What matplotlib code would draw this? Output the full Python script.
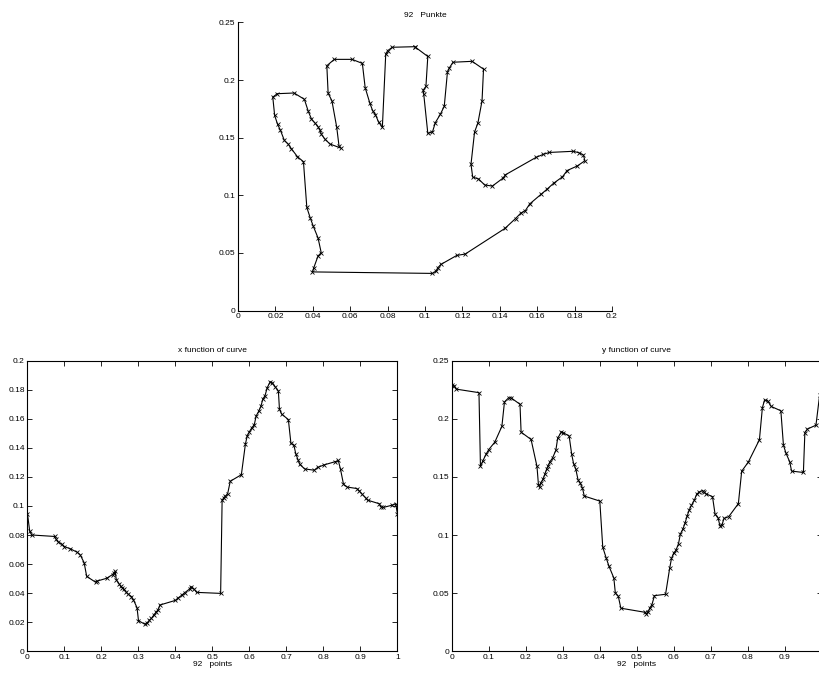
import matplotlib
matplotlib.use("Agg")
import matplotlib.pyplot as plt

plt.rcParams['font.family'] = ['Liberation Sans', 'DejaVu Sans']

# curve parameter (shared by both component plots)
t = [0.000, 0.006, 0.012, 0.073, 0.077, 0.083, 0.093, 0.0995, 0.116, 0.135, 0.142,
     0.153, 0.160, 0.184, 0.187, 0.214, 0.230, 0.234, 0.237, 0.240,
     0.247, 0.252, 0.256, 0.260, 0.265, 0.272, 0.281, 0.286, 0.296, 0.300, 0.317,
     0.324, 0.329, 0.335, 0.341, 0.347, 0.353, 0.358, 0.400,
     0.408, 0.417, 0.425, 0.438, 0.442, 0.450, 0.457, 0.522,
     0.526, 0.531, 0.535, 0.541, 0.548, 0.578,
     0.589, 0.594, 0.600, 0.606, 0.613, 0.618, 0.625, 0.631, 0.636, 0.642, 0.648, 0.656,
     0.662, 0.669, 0.678, 0.681, 0.687, 0.705, 0.712, 0.720, 0.725, 0.731, 0.736, 0.749, 0.775,
     0.784, 0.802, 0.832, 0.840, 0.846, 0.854, 0.864, 0.890, 0.897, 0.904, 0.914, 0.919,
     0.951, 0.955, 0.962, 0.985, 0.995, 1.000]

x_curve = [0.0945, 0.0825, 0.0800, 0.0790, 0.0772, 0.0752, 0.0735, 0.0720, 0.0705, 0.0680, 0.0665,
           0.0610, 0.0515, 0.0475, 0.0482, 0.0502, 0.0528, 0.0540, 0.0550, 0.0492,
           0.0466, 0.0446, 0.0438, 0.0428, 0.0410, 0.0393, 0.0376, 0.0355, 0.0300, 0.0210, 0.0186,
           0.0196, 0.0212, 0.0226, 0.0248, 0.0268, 0.0285, 0.0318, 0.0350,
           0.0368, 0.0386, 0.0403, 0.0428, 0.0445, 0.0428, 0.0405, 0.0398,
           0.1040, 0.1058, 0.1068, 0.1085, 0.1170, 0.1215,
           0.1427, 0.1484, 0.1512, 0.1537, 0.1560, 0.1620, 0.1652, 0.1688, 0.1735, 0.1760, 0.1815, 0.1855,
           0.1847, 0.1822, 0.1792, 0.1665, 0.1632, 0.1595, 0.1430, 0.1418, 0.1360, 0.1319, 0.1286, 0.1255, 0.1246,
           0.1265, 0.1283, 0.1305, 0.1313, 0.1252, 0.1150, 0.1130, 0.1120, 0.1103, 0.1082, 0.1055, 0.1040,
           0.1015, 0.0993, 0.0990, 0.1005, 0.1015, 0.0945]

y_curve = [0.2290, 0.2285, 0.2255, 0.2225, 0.1590, 0.1635, 0.1700, 0.1735, 0.1800, 0.1935, 0.2145,
           0.2180, 0.2180, 0.2125, 0.1885, 0.1822, 0.1590, 0.1430, 0.1410, 0.1445,
           0.1485, 0.1529, 0.1566, 0.1596, 0.1630, 0.1662, 0.1728, 0.1833, 0.1888, 0.1882, 0.1852,
           0.1693, 0.1615, 0.1568, 0.1476, 0.1445, 0.1405, 0.1335, 0.1292,
           0.0895, 0.0805, 0.0730, 0.0630, 0.0502, 0.0473, 0.0370, 0.0335,
           0.0322, 0.0340, 0.0370, 0.0400, 0.0478, 0.0490,
           0.0712, 0.0798, 0.0845, 0.0868, 0.0925, 0.1008, 0.1052, 0.1105, 0.1160, 0.1215, 0.1255, 0.1300,
           0.1350, 0.1370, 0.1382, 0.1372, 0.1355, 0.1330, 0.1178, 0.1150, 0.1080, 0.1090, 0.1142, 0.1158, 0.1270,
           0.1549, 0.1628, 0.1820, 0.2095, 0.2163, 0.2155, 0.2106, 0.2069, 0.1773, 0.1703, 0.1630, 0.1550,
           0.1538, 0.1882, 0.1912, 0.1945, 0.2205, 0.2290]

top_title = "92   Punkte"
left_title = "x function of curve"
right_title = "y function of curve"
bottom_xlabel = "92   points"

top_xticks = [0, 0.02, 0.04, 0.06, 0.08, 0.1, 0.12, 0.14, 0.16, 0.18, 0.2]
top_xticklabels = ["0", "0.02", "0.04", "0.06", "0.08", "0.1", "0.12", "0.14", "0.16", "0.18", "0.2"]
top_yticks = [0, 0.05, 0.1, 0.15, 0.2, 0.25]
top_yticklabels = ["0", "0.05", "0.1", "0.15", "0.2", "0.25"]
t_ticks = [0, 0.1, 0.2, 0.3, 0.4, 0.5, 0.6, 0.7, 0.8, 0.9, 1]
t_ticklabels = ["0", "0.1", "0.2", "0.3", "0.4", "0.5", "0.6", "0.7", "0.8", "0.9", "1"]
left_yticks = [0, 0.02, 0.04, 0.06, 0.08, 0.1, 0.12, 0.14, 0.16, 0.18, 0.2]
left_yticklabels = ["0", "0.02", "0.04", "0.06", "0.08", "0.1", "0.12", "0.14", "0.16", "0.18", "0.2"]
right_yticks = [0, 0.05, 0.1, 0.15, 0.2, 0.25]
right_yticklabels = ["0", "0.05", "0.1", "0.15", "0.2", "0.25"]

W, H = 820, 675
fig = plt.figure(figsize=(W / 100, H / 100), dpi=100)

def box(x0, y0, x1, y1):
    return [x0 / W, 1 - y1 / H, (x1 - x0) / W, (y1 - y0) / H]

FS = 6
line_kw = dict(color='black', lw=0.8, marker='x', ms=3.2, mew=0.6)

def style(ax, full_box=True):
    for s in ax.spines.values():
        s.set_linewidth(0.8)
    ax.tick_params(direction='in', length=3.5, width=0.6, labelsize=FS, pad=2,
                   top=full_box, right=full_box)
    if not full_box:
        ax.spines['top'].set_visible(False)
        ax.spines['right'].set_visible(False)

# top: the curve itself
ax0 = fig.add_axes(box(238, 22.5, 612, 310.5))
ax0.plot(x_curve, y_curve, **line_kw)
ax0.set_xlim(0, 0.2)
ax0.set_ylim(0, 0.25)
ax0.set_xticks(top_xticks)
ax0.set_xticklabels(top_xticklabels)
ax0.set_yticks(top_yticks)
ax0.set_yticklabels(top_yticklabels)
ax0.set_title(top_title, fontsize=FS, pad=4)
style(ax0, full_box=False)

# bottom left: x component
ax1 = fig.add_axes(box(27.5, 360.7, 397.5, 651.2))
ax1.plot(t, x_curve, **line_kw)
ax1.set_xlim(0, 1)
ax1.set_ylim(0, 0.2)
ax1.set_xticks(t_ticks)
ax1.set_xticklabels(t_ticklabels)
ax1.set_yticks(left_yticks)
ax1.set_yticklabels(left_yticklabels)
ax1.set_title(left_title, fontsize=FS, pad=6)
ax1.set_xlabel(bottom_xlabel, fontsize=FS, labelpad=0)
style(ax1)

# bottom right: y component
ax2 = fig.add_axes(box(452, 360.7, 821.5, 651.2))
ax2.plot(t, y_curve, **line_kw)
ax2.set_xlim(0, 1)
ax2.set_ylim(0, 0.25)
ax2.set_xticks(t_ticks)
ax2.set_xticklabels(t_ticklabels)
ax2.set_yticks(right_yticks)
ax2.set_yticklabels(right_yticklabels)
ax2.set_title(right_title, fontsize=FS, pad=6)
ax2.set_xlabel(bottom_xlabel, fontsize=FS, labelpad=0)
style(ax2)

fig.savefig("out.png", dpi=100)
